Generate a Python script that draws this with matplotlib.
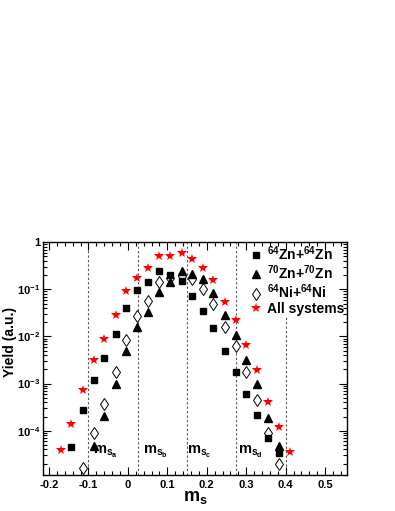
import numpy as np
import matplotlib
matplotlib.use('Agg')
import matplotlib.pyplot as plt
from matplotlib.ticker import MultipleLocator, LogLocator, FuncFormatter, NullFormatter

plt.rcParams['font.family'] = ['Liberation Sans', 'DejaVu Sans']
plt.rcParams['font.weight'] = 'bold'
plt.rcParams['mathtext.fontset'] = 'custom'
plt.rcParams['mathtext.rm'] = 'Liberation Sans:bold'
plt.rcParams['mathtext.bf'] = 'Liberation Sans:bold'
plt.rcParams['mathtext.it'] = 'Liberation Sans:bold'
plt.rcParams['mathtext.default'] = 'bf'

# yields
x_zn64 = [-0.143, -0.115, -0.086, -0.060, -0.031, -0.005, 0.023, 0.051, 0.079, 0.106,
          0.136, 0.163, 0.190, 0.217, 0.245, 0.273, 0.300, 0.328, 0.355, 0.383]
y_zn64 = [4.6e-5, 2.7e-4, 1.2e-3, 3.5e-3, 0.0112, 0.041, 0.096, 0.144, 0.247, 0.206,
          0.151, 0.072, 0.035, 0.0148, 4.8e-3, 1.8e-3, 5.9e-4, 2.15e-4, 7.1e-5, 3.3e-5]

x_zn70 = [-0.086, -0.060, -0.031, -0.005, 0.023, 0.051, 0.079, 0.106, 0.136,
          0.163, 0.190, 0.217, 0.245, 0.273, 0.300, 0.328, 0.355, 0.383]
y_zn70 = [4.8e-5, 2.05e-4, 9.8e-4, 4.8e-3, 0.0156, 0.033, 0.086, 0.14, 0.25,
          0.21, 0.162, 0.085, 0.028, 0.0107, 3.2e-3, 9.7e-4, 1.9e-4, 4.8e-5]

x_ni64 = [-0.115, -0.086, -0.060, -0.031, -0.005, 0.023, 0.051, 0.079, 0.106, 0.136,
          0.163, 0.190, 0.217, 0.245, 0.273, 0.300, 0.328, 0.355, 0.383]
y_ni64 = [1.6e-5, 9.1e-5, 3.6e-4, 1.8e-3, 8.4e-3, 0.027, 0.057, 0.144, 0.17, 0.19,
          0.162, 0.104, 0.050, 0.016, 6.3e-3, 1.8e-3, 4.5e-4, 9.1e-5, 2.0e-5]

x_all = [-0.170, -0.144, -0.115, -0.086, -0.060, -0.031, -0.005, 0.023, 0.051, 0.079, 0.106,
         0.136, 0.163, 0.190, 0.217, 0.245, 0.273, 0.300, 0.328, 0.355, 0.383, 0.411]
y_all = [3.9e-5, 1.38e-4, 7.3e-4, 3.1e-3, 8.7e-3, 2.8e-2, 0.091, 0.17, 0.28, 0.50, 0.50,
         0.59, 0.43, 0.29, 0.16, 0.054, 0.022, 6.5e-3, 1.95e-3, 4.1e-4, 1.22e-4, 3.5e-5]

bounds = [-0.1, 0.025, 0.15, 0.275, 0.4]
region_names = ['a', 'b', 'c', 'd']
region_x = [-0.058, 0.07, 0.18, 0.31]

fig = plt.figure(figsize=(3.95, 5.11), dpi=100)
ax = fig.add_axes([0.109, 0.0705, 0.769, 0.4555])

for i, b in enumerate(bounds):
    top = 0.678 if i == len(bounds) - 1 else 1.0
    ax.axvline(b, ymax=top, color='#555555', lw=0.8, ls=(0, (2, 2)), zorder=1)

ax.plot(x_ni64, y_ni64, ls='none', marker='d', ms=6, mfc='white', mec='black', mew=0.7,
        zorder=2, label=r'$^{64}$Ni+$^{64}$Ni')
ax.plot(x_zn64, y_zn64, ls='none', marker='s', ms=4.8, color='black', zorder=3,
        label=r'$^{64}$Zn+$^{64}$Zn')
ax.plot(x_zn70, y_zn70, ls='none', marker='^', ms=5.5, color='black', zorder=3,
        label=r'$^{70}$Zn+$^{70}$Zn')
ax.plot(x_all, y_all, ls='none', marker='*', ms=7, color='red', mew=0, zorder=4,
        label='All systems')

ax.set_yscale('log')
ax.set_xlim(-0.215, 0.555)
ax.set_ylim(1.15e-5, 1.0)

for name, xr in zip(region_names, region_x):
    ax.text(xr, 3.5e-5, r'$\mathbf{m_{s_{%s}}}$' % name, fontsize=10.5, ha='center', va='center')

ax.xaxis.set_major_locator(MultipleLocator(0.1))
ax.xaxis.set_minor_locator(MultipleLocator(0.02))
ax.xaxis.set_major_formatter(FuncFormatter(lambda v, p: '0' if abs(v) < 1e-9 else f'{v:.1f}'))
ax.yaxis.set_major_locator(LogLocator(base=10, numticks=10))
ax.yaxis.set_minor_locator(LogLocator(base=10, subs=np.arange(2, 10), numticks=10))
ax.yaxis.set_minor_formatter(NullFormatter())
ax.yaxis.set_major_formatter(FuncFormatter(
    lambda v, p: '1' if abs(v - 1) < 1e-9 else r'$\mathbf{10^{%d}}$' % round(np.log10(v))))

ax.tick_params(which='both', direction='in', top=True, right=True, labelsize=8, width=0.8)
ax.tick_params(which='major', length=6)
ax.tick_params(which='minor', length=3)
ax.tick_params(axis='y', pad=2)
for lab in ax.get_xticklabels() + ax.get_yticklabels():
    lab.set_fontweight('bold')
for s in ax.spines.values():
    s.set_linewidth(1)

ax.set_xlabel(r'$\mathbf{m_s}$', fontsize=13)
ax.xaxis.set_label_coords(0.5, -0.06)
ax.set_ylabel('Yield (a.u.)', fontsize=10, fontweight='bold')
ax.yaxis.set_label_coords(-0.085, 0.57)

h, l = ax.get_legend_handles_labels()
order = [1, 2, 0, 3]
ax.legend([h[i] for i in order], [l[i] for i in order], loc='upper right', frameon=False,
          handletextpad=0.2, handlelength=1.2, labelspacing=0.05,
          borderaxespad=0.0, bbox_to_anchor=(1.01, 1.015), prop={'weight': 'bold', 'size': 10})

fig.savefig('out.png', dpi=100)
